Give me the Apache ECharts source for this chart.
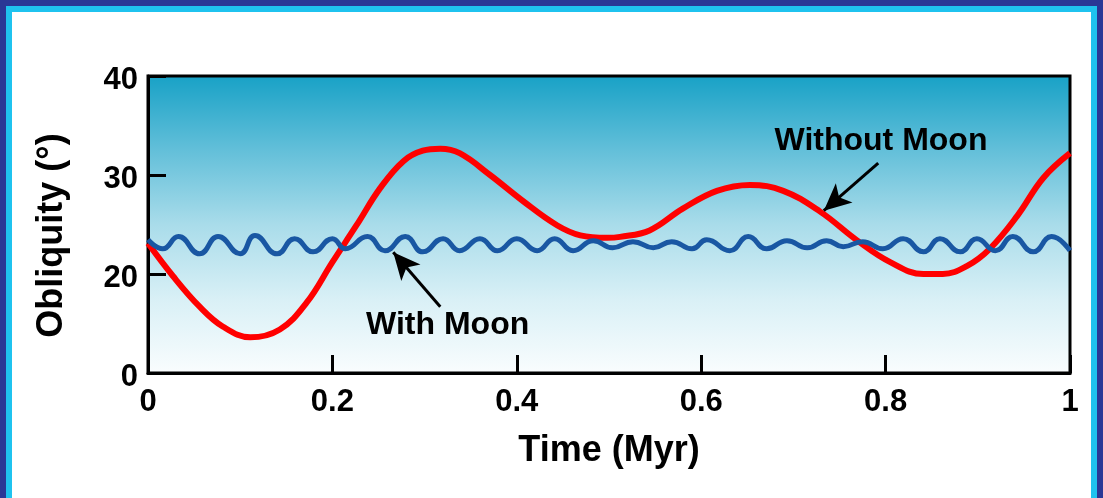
<!DOCTYPE html>
<html>
<head>
<meta charset="utf-8">
<script src="https://cdn.jsdelivr.net/npm/echarts@6/dist/echarts.min.js"></script>
<style>
  html, body { margin: 0; padding: 0; width: 1103px; height: 498px; overflow: hidden; background: #2a3896; }
  #frame { position: absolute; left: 6px; top: 6px; width: 1079px; height: 492px; background: #ffffff;
           border-left: 6px solid #1fc3ef; border-top: 6px solid #1fc3ef; border-right: 6px solid #1fc3ef; }
  #chart { position: absolute; left: 0; top: 0; width: 1103px; height: 498px; }
</style>
</head>
<body>
<div id="frame"></div>
<div id="chart"></div>
<script>
// Time (Myr) and obliquity (deg, plotted on the reference's 10–40 span whose bottom is labelled "0")
const withoutMoonTime = [0, 0.027, 0.056, 0.081, 0.111, 0.143, 0.172, 0.200, 0.226, 0.252, 0.277, 0.298, 0.317, 0.338, 0.371, 0.407, 0.444, 0.469, 0.498, 0.512, 0.544, 0.580, 0.617, 0.653, 0.689, 0.729, 0.769, 0.805, 0.841, 0.862, 0.888, 0.913, 0.943, 0.971, 1.0];
const withoutMoonObl  = [23.1, 19.8, 16.7, 14.7, 13.6, 14.4, 17.1, 21.2, 24.9, 28.7, 31.4, 32.45, 32.65, 32.2, 30.0, 27.35, 24.9, 23.9, 23.65, 23.75, 24.4, 26.6, 28.4, 29.0, 28.4, 26.3, 23.4, 21.2, 20.0, 20.0, 20.8, 22.55, 25.9, 29.7, 32.2];

const withMoonTime = [0, 0.016, 0.033, 0.056, 0.076, 0.100, 0.116, 0.140, 0.159, 0.179, 0.200, 0.214, 0.238, 0.257, 0.279, 0.298, 0.320, 0.338, 0.360, 0.379, 0.400, 0.422, 0.441, 0.461, 0.483, 0.504, 0.526, 0.548, 0.568, 0.590, 0.606, 0.631, 0.651, 0.671, 0.693, 0.715, 0.736, 0.754, 0.775, 0.797, 0.819, 0.841, 0.859, 0.881, 0.899, 0.919, 0.938, 0.960, 0.980, 1.0];
const withMoonObl  = [23.47, 22.55, 23.78, 22.04, 23.78, 22.04, 23.88, 22.04, 23.57, 22.24, 23.57, 22.55, 23.78, 22.35, 23.78, 22.24, 23.57, 22.35, 23.57, 22.35, 23.57, 22.35, 23.57, 22.35, 23.37, 22.65, 23.27, 22.65, 23.27, 22.55, 23.47, 22.35, 23.78, 22.55, 23.37, 22.65, 23.37, 22.76, 23.27, 22.55, 23.57, 22.24, 23.57, 22.24, 23.57, 22.35, 23.78, 22.24, 23.78, 22.35];

const yTickValues = [10, 20, 30, 40];
const yTickLabels = ['0', '20', '30', '40'];
const xTickLabels = ['0', '0.2', '0.4', '0.6', '0.8', '1'];

const labelWithout = { text: 'Without Moon', x: 0.795, y: 33.45 };
const arrowWithout = [[0.792, 31.2], [0.733, 26.4]];
const labelWith = { text: 'With Moon', x: 0.325, y: 14.85 };
const arrowWith = [[0.317, 16.7], [0.266, 22.2]];

const zip = (a, b) => a.map((v, i) => [v, b[i]]);
const FONT = '"Liberation Sans", Arial, sans-serif';

const chart = echarts.init(document.getElementById('chart'), null, { renderer: 'canvas' });
chart.setOption({
  animation: false,
  backgroundColor: 'transparent',
  grid: {
    left: 148, top: 76, right: 33, bottom: 125,
    show: true, borderColor: '#000', borderWidth: 3,
    backgroundColor: new echarts.graphic.LinearGradient(0, 0, 0, 1, [
      { offset: 0, color: '#17a1c6' },
      { offset: 0.25, color: '#62bfd9' },
      { offset: 0.5, color: '#a9dcea' },
      { offset: 0.75, color: '#d9f0f6' },
      { offset: 1, color: '#fafdfe' }
    ])
  },
  xAxis: {
    type: 'value', min: 0, max: 1, interval: 0.2,
    name: 'Time (Myr)', nameLocation: 'middle', nameGap: 60,
    nameTextStyle: { fontFamily: FONT, fontWeight: 'bold', fontSize: 36, color: '#000' },
    axisLine: { lineStyle: { color: '#000', width: 3 } },
    axisTick: { inside: true, length: 18, lineStyle: { color: '#000', width: 3 } },
    axisLabel: { margin: 14, fontFamily: FONT, fontWeight: 'bold', fontSize: 31, color: '#000',
      formatter: v => xTickLabels[Math.round(v / 0.2)] },
    splitLine: { show: false }
  },
  yAxis: {
    type: 'value', min: 10, max: 40, interval: 10,
    name: 'Obliquity (°)', nameLocation: 'middle', nameGap: 78, nameRotate: 90,
    nameTextStyle: { fontFamily: FONT, fontWeight: 'bold', fontSize: 36, color: '#000', padding: [0, 22, 0, 0] },
    axisLine: { lineStyle: { color: '#000', width: 3 } },
    axisTick: { inside: true, length: 18, lineStyle: { color: '#000', width: 3 } },
    axisLabel: { margin: 10, fontFamily: FONT, fontWeight: 'bold', fontSize: 31, color: '#000',
      verticalAlign: 'top', lineHeight: 8,
      formatter: v => yTickLabels[yTickValues.indexOf(v)] },
    splitLine: { show: false }
  },
  series: [
    {
      name: 'Without Moon', type: 'line', data: zip(withoutMoonTime, withoutMoonObl),
      smooth: 0.4, symbol: 'none', lineStyle: { color: '#ff0000', width: 6 }, z: 2,
      markLine: {
        silent: true, symbol: ['none', 'arrow'], symbolSize: [19, 27],
        lineStyle: { color: '#000', width: 3, type: 'solid' }, label: { show: false },
        data: [[{ coord: arrowWithout[0] }, { coord: arrowWithout[1] }]]
      },
      markPoint: {
        silent: true, symbol: 'circle', symbolSize: 0,
        label: { show: true, position: 'inside', formatter: labelWithout.text,
          fontFamily: FONT, fontWeight: 'bold', fontSize: 32, color: '#000' },
        data: [{ coord: [labelWithout.x, labelWithout.y] }]
      }
    },
    {
      name: 'With Moon', type: 'line', data: zip(withMoonTime, withMoonObl),
      smooth: 0.5, symbol: 'none', lineStyle: { color: '#1957a3', width: 5 }, z: 3,
      markLine: {
        silent: true, symbol: ['none', 'arrow'], symbolSize: [19, 27],
        lineStyle: { color: '#000', width: 3, type: 'solid' }, label: { show: false },
        data: [[{ coord: arrowWith[0] }, { coord: arrowWith[1] }]]
      },
      markPoint: {
        silent: true, symbol: 'circle', symbolSize: 0,
        label: { show: true, position: 'inside', formatter: labelWith.text,
          fontFamily: FONT, fontWeight: 'bold', fontSize: 32, color: '#000' },
        data: [{ coord: [labelWith.x, labelWith.y] }]
      }
    }
  ]
});
</script>
</body>
</html>
